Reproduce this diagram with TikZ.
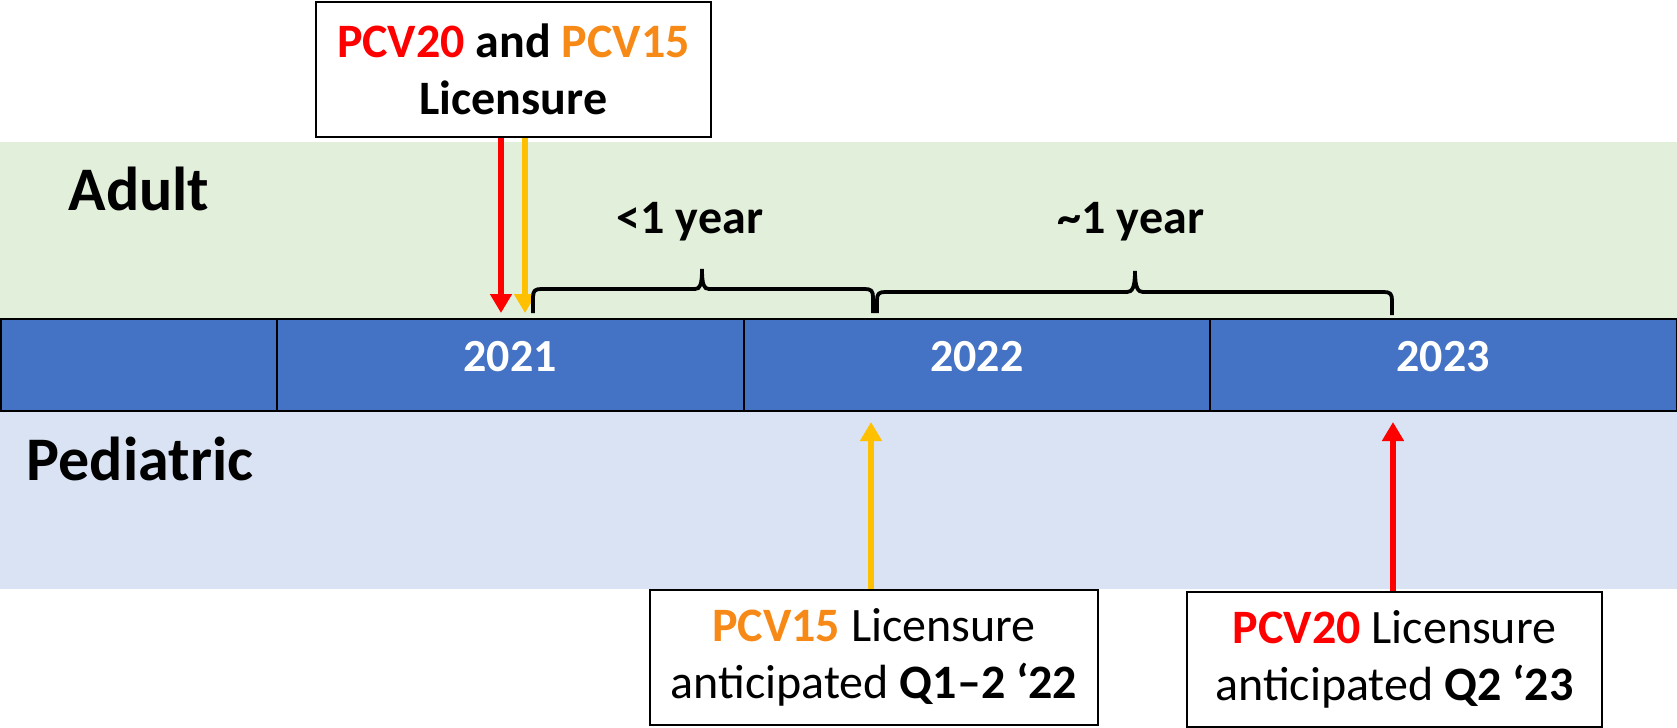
\documentclass[tikz,border=0pt]{standalone}
\usepackage{fontspec}
\setmainfont{Carlito}
\usetikzlibrary{positioning, calc, arrows.meta}
\definecolor{adultgreen}{RGB}{226,239,218}
\definecolor{pedblue}{RGB}{218,227,243}
\definecolor{barblue}{RGB}{68,114,196}
\definecolor{pcvred}{RGB}{255,0,0}
\definecolor{pcvorange}{RGB}{247,137,22}
\definecolor{arrowgold}{RGB}{255,192,0}

\begin{document}
\begin{tikzpicture}[x=0.5pt, y=-0.5pt,
  yearcell/.style={draw, line width=1pt, fill=barblue, 
    outer sep=0pt, inner sep=0pt, 
    minimum width=233.25pt, minimum height=46pt, 
    text=white, text height=14.5pt, text depth=8pt,
    font=\fontsize{23}{28}\selectfont\bfseries},
  bandlabel/.style={anchor=base, 
    font=\fontsize{31}{37}\selectfont\bfseries},
  infobox/.style={draw, line width=1pt, fill=white, 
    align=center, inner sep=0pt, 
    minimum height=67.5pt, 
    font=\fontsize{24}{28.5}\selectfont},
  spanlabel/.style={anchor=base, 
    font=\fontsize{24}{28}\selectfont\bfseries},
  licarrow/.style={line width=2.8pt, 
    -{Triangle[width=10.5pt,length=9.5pt]}},
  bracepen/.style={line width=1.9pt}]

  \useasboundingbox (0,0) rectangle (1677,728);

  % BANDS

  \fill[adultgreen] (0,142) rectangle (1677,319);
  \fill[pedblue] (0,411) rectangle (1677,589);

  \node[bandlabel] (adult) at (139,210) {Adult};
  \node[bandlabel] (pediatric) at (140,480) {Pediatric};

  % TIMELINE

  \node[yearcell, minimum width=138pt, 
    anchor=north west] (cell0) at (1,319) {};
  \node[yearcell, right=0pt of cell0] (y2021) {2021};
  \node[yearcell, right=0pt of y2021] (y2022) {2022};
  \node[yearcell, right=0pt of y2022] (y2023) {2023};

  % LICENSURE BOXES

  \node[infobox, minimum width=197.5pt] (adultlic) at (513.5,69.5) {%
    \textbf{\textcolor{pcvred}{PCV20} and \textcolor{pcvorange}{PCV15}}\\
    \textbf{Licensure}};

  \node[infobox, minimum width=224pt] (pcv15lic) at (874,657.5) {%
    \textbf{\textcolor{pcvorange}{PCV15}} Licensure\\
    anticipated \textbf{Q1--2 `22}};

  \node[infobox, minimum width=207.5pt] (pcv20lic) at (1394.5,659.5) {%
    \textbf{\textcolor{pcvred}{PCV20}} Licensure\\
    anticipated \textbf{Q2 `23}};

  % ARROWS

  \coordinate (adulttip20) at (501,313);
  \coordinate (adulttip15) at (525,313);
  \coordinate (pedtip15) at (871,422);
  \coordinate (pedtip20) at (1393,422);

  \draw[licarrow, pcvred] (adultlic.south -| adulttip20) -- (adulttip20);
  \draw[licarrow, arrowgold] (adultlic.south -| adulttip15) -- (adulttip15);
  \draw[licarrow, arrowgold] (pcv15lic.north -| pedtip15) -- (pedtip15);
  \draw[licarrow, pcvred] (pcv20lic.north -| pedtip20) -- (pedtip20);

  % BRACES

  \draw[bracepen] (533,313) -- (533,297) 
  .. controls (533,291) and (535,289) .. (541,289) -- (695,289) 
  .. controls (700,289) and (702,285) .. (702,269) 
  .. controls (702,285) and (704,289) .. (709,289) -- (865,289) 
  .. controls (871,289) and (873,291) .. (873,297) -- (873,313);

  \draw[bracepen] (877,313) -- (877,300) 
  .. controls (877,294) and (879,292) .. (885,292) -- (1127,292) 
  .. controls (1132,292) and (1135,288) .. (1135,271) 
  .. controls (1135,288) and (1138,292) .. (1143,292) -- (1384,292) 
  .. controls (1390,292) and (1392,294) .. (1392,300) -- (1392,315);

  \node[spanlabel] (lessyear) at (690,233) {<1 year};
  \node[spanlabel] (aboutyear) at (1131,233) {\textasciitilde1 year};

\end{tikzpicture}
\end{document}
